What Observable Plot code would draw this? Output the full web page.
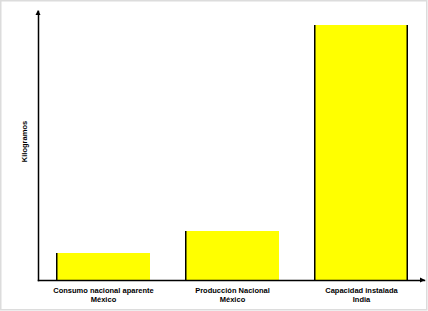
<!DOCTYPE html>
<html><head><meta charset="utf-8">
<script src="https://cdn.jsdelivr.net/npm/d3@7"></script>
<script src="https://cdn.jsdelivr.net/npm/@observablehq/plot@0.6"></script>
<style>body{margin:0;background:#fff;} svg{display:block;}</style>
</head><body><div id="chart"></div>
<script>
const categories = ["Consumo nacional aparente\nMéxico", "Producción Nacional\nMéxico", "Capacidad instalada\nIndia"];
const values = [27, 49, 255];
const yLabel = "Kilogramos";
const yMax = 269;

const data = categories.map((c, i) => ({cat: c, value: values[i]}));
const last = data.slice(-1);

const chart = Plot.plot({
  width: 428, height: 311,
  marginLeft: 38, marginRight: 4, marginTop: 11, marginBottom: 31,
  style: {fontFamily: "Liberation Sans, Arial, sans-serif", fontSize: "7.5px", fontWeight: "bold", color: "#000", background: "#fff"},
  x: {domain: categories, range: [56, 408], paddingInner: 0.2713, paddingOuter: 0, round: false, label: null},
  y: {domain: [0, yMax], axis: null},
  marks: [
    Plot.barY(data, {x: "cat", y: "value", fill: "#000"}),
    Plot.barY(data.slice(0, -1), {x: "cat", y: "value", fill: "#ffff00", insetLeft: 1.5}),
    Plot.barY(last, {x: "cat", y: "value", fill: "#ffff00", insetLeft: 1.5, insetRight: 1.5}),
    Plot.axisX({tickSize: 0, tickPadding: 6, fontSize: 7.5, fontWeight: "bold", lineHeight: 1.2}),
    Plot.frame({anchor: "left", stroke: "#000", strokeWidth: 1.5}),
    Plot.frame({anchor: "bottom", stroke: "#000", strokeWidth: 1.5})
  ]
});

const svg = d3.select(chart);
const ys = chart.scale("y").range; // [bottom, top]
const yb = ys[0], yt = ys[1];
const xl = 38, xr = 428 - 4;
svg.append("path").attr("d", `M${xl-2.5},${yt+4}L${xl},${yt-1}L${xl+2.5},${yt+4}Z`).attr("fill", "#000");
svg.append("path").attr("d", `M${xr-4},${yb-2.5}L${xr+1},${yb}L${xr-4},${yb+2.5}Z`).attr("fill", "#000");
svg.append("text").attr("transform", `translate(27,${(yb+yt)/2 - 4}) rotate(-90)`)
  .attr("text-anchor", "middle").attr("font-size", 7.5).attr("font-weight", "bold").text(yLabel);
svg.append("rect").attr("x", 0.75).attr("y", 0.75).attr("width", 426).attr("height", 309)
  .attr("fill", "none").attr("stroke", "#dcdcdc").attr("stroke-width", 1.5);
document.getElementById("chart").appendChild(chart);
</script></body></html>
